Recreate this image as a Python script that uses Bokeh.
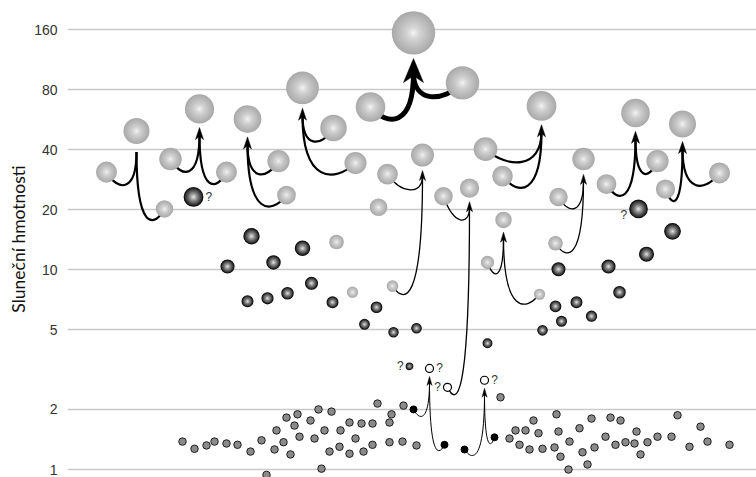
import math
from bokeh.plotting import figure
from bokeh.models import Range1d, FixedTicker, PrintfTickFormatter
from bokeh.core.properties import value
from bokeh.embed import file_html
from bokeh.resources import INLINE

# ---------------- data (masses in solar masses, x = event position) ----------------
Y_TICKS = [1, 2, 5, 10, 20, 40, 80, 160]
Y_LABEL = "Sluneční hmotnosti"

# gravitational-wave mergers: two components -> final object
merger_x = [136, 199, 247, 302, 413, 541, 635, 682, 422, 469, 503, 583, 429, 484]
final_m = [49.6, 64.0, 57.0, 81.6, 154, 66.3, 61.1, 53.8, 37.6, 25.7, 17.8, 35.9, 3.21, 2.80]
comp1_x = [106, 170, 278, 333, 370, 485, 606, 665, 387, 443, 487, 558, 413, 464]
comp1_m = [30.9, 35.9, 35.1, 51.4, 65.5, 40.3, 26.9, 25.4, 30.2, 23.4, 10.9, 23.2, 2.00, 1.26]
comp2_x = [164, 226, 286, 355, 462, 502, 657, 719, 392, 447, 539, 555, 444, 494]
comp2_m = [20.2, 30.9, 23.7, 34.3, 86.5, 29.5, 35.1, 30.6, 8.3, 2.58, 7.55, 13.6, 1.33, 1.45]
final_kind = ["bh"] * 12 + ["open"] * 2
comp1_kind = ["bh"] * 12 + ["ns"] * 2
comp2_kind = ["bh"] * 9 + ["open"] + ["bh"] * 2 + ["ns"] * 2

# single gravitational-wave black holes without merger arrows
lone_x = [378, 336, 352]
lone_m = [20.6, 13.8, 7.73]

# black holes seen in X-rays
xrb_x = [193, 251, 227, 273, 302, 311, 247, 267, 287, 332, 376, 364, 393, 416, 487,
         558, 608, 646, 672, 638, 619, 555, 576, 561, 591, 542]
xrb_m = [23.2, 14.75, 10.4, 10.9, 12.85, 8.57, 6.96, 7.21, 7.64, 6.88, 6.5, 5.34, 4.87, 5.1, 4.29,
         10.08, 10.4, 11.99, 15.6, 20.2, 7.73, 6.57, 6.88, 5.53, 5.86, 4.98]

# uncertain small object
unc_x = [409]
unc_m = [3.29]

# neutron stars seen electromagnetically
ns_x = [182, 194, 206, 214, 226, 237, 250, 261, 266, 274, 276, 283, 286, 290, 294, 297, 299,
        310, 314, 318, 321, 324, 329, 331, 339, 340, 349, 349, 355, 361, 363, 372, 372, 377,
        389, 391, 389, 402, 403, 416, 500, 509, 515, 519, 525, 529, 533, 538, 542, 554, 556,
        558, 560, 568, 569, 579, 582, 587, 591, 594, 605, 610, 615, 620, 625, 634, 636, 640,
        647, 657, 671, 677, 689, 700, 707, 729]
ns_m = [1.38, 1.27, 1.32, 1.38, 1.35, 1.33, 1.23, 1.40, 0.94, 1.26, 1.57, 1.37, 1.82, 1.19,
        1.66, 1.89, 1.46, 1.76, 1.43, 2.00, 1.01, 1.57, 1.23, 1.95, 1.30, 1.57, 1.72, 1.20,
        1.43, 1.70, 1.23, 1.70, 1.33, 2.14, 1.72, 1.89, 1.37, 1.38, 2.09, 1.32, 2.30, 1.43,
        1.57, 1.33, 1.57, 1.26, 1.76, 1.52, 1.27, 1.29, 1.89, 1.55, 1.16, 1.00, 1.38, 1.61,
        1.22, 1.06, 1.80, 1.29, 1.46, 1.82, 1.33, 1.76, 1.37, 1.35, 1.55, 1.19, 1.37, 1.46,
        1.46, 1.87, 1.30, 1.64, 1.38, 1.33]

# question marks next to uncertain objects
q_x = [193, 638, 409, 429, 447, 484]
q_m = [23.2, 20.2, 3.29, 3.21, 2.58, 2.80]
q_side = [1, -1, -1, 1, -1, 1]

# ---------------- styles ----------------
arrow_style = ["bbh"] * 4 + ["big"] + ["bbh"] * 3 + ["mid"] * 4 + ["bns"] * 2
has_head = [False] + [True] * 13
STYLE = {  # line width, head width, head length, dip px
    "bbh": (2.2, 8, 12, 20),
    "big": (5.0, 20, 24, 20),
    "mid": (1.3, 6, 10, 18),
    "bns": (1.0, 5, 9, 12),
}
q_dy = [0, 6, 0, 0, 0, 0]

W, H = 756, 477
LEFT = 67
Y_LO, Y_HI = 0.912, 223.7
S = H / math.log2(Y_HI / Y_LO)  # px per octave


def shift(m, px):
    """move mass value down on screen by px pixels"""
    return m * 2 ** (-px / S)


def diam(m, kind):
    if kind == "bh":
        return 4.5 * m ** 0.45
    if kind == "open":
        return 8
    return 7


p = figure(width=W, height=H, y_axis_type="log",
           x_range=Range1d(LEFT, W), y_range=Range1d(Y_LO, Y_HI),
           output_backend="svg", toolbar_location=None,
           min_border_left=LEFT, min_border_right=0, min_border_top=0, min_border_bottom=0)
p.outline_line_color = None
p.background_fill_color = "white"
p.xaxis.visible = False
p.xgrid.visible = False
p.ygrid.ticker = FixedTicker(ticks=Y_TICKS)
p.ygrid.grid_line_color = "#c9c9c9"
p.ygrid.grid_line_width = 1.5
yax = p.yaxis[0]
yax.ticker = FixedTicker(ticks=Y_TICKS)
yax.formatter = PrintfTickFormatter(format="%d")
yax.axis_line_color = None
yax.major_tick_line_color = None
yax.minor_tick_line_color = None
yax.major_tick_out = 0
yax.major_label_text_font = "Liberation Sans"
yax.major_label_text_font_size = "14px"
yax.major_label_text_color = "#333333"
yax.major_label_standoff = 10
yax.axis_label = Y_LABEL
yax.axis_label_text_font = "Lato"
yax.axis_label_text_font_size = "17.5px"
yax.axis_label_text_font_style = "normal"
yax.axis_label_text_color = "#111111"
yax.axis_label_standoff = 2

# ---------------- arrows ----------------
for i in range(len(merger_x)):
    lw, hw, hl, dip = STYLE[arrow_style[i]]
    xm = merger_x[i]
    fd = diam(final_m[i], final_kind[i])
    gap = 4 if has_head[i] else 8
    tip = shift(final_m[i], fd / 2 + gap)
    end = shift(tip, 0.6 * hl) if has_head[i] else tip
    bx0, by0, bx1, by1, bcx0, bcy0, bcx1, bcy1 = [], [], [], [], [], [], [], []
    for cx, cm in ((comp1_x[i], comp1_m[i]), (comp2_x[i], comp2_m[i])):
        low = shift(min(cm, end), dip)
        bx0.append(cx); by0.append(cm)
        bx1.append(xm); by1.append(end)
        bcx0.append(cx + 0.4 * (xm - cx)); bcy0.append(low)
        bcx1.append(xm); bcy1.append(low)
    p.bezier(x0=bx0, y0=by0, x1=bx1, y1=by1, cx0=bcx0, cy0=bcy0, cx1=bcx1, cy1=bcy1,
             line_color="black", line_width=lw)
    if has_head[i]:
        base = shift(tip, hl)
        notch = shift(tip, 0.72 * hl)
        p.patch(x=[xm, xm + hw / 2, xm, xm - hw / 2],
                y=[tip, base, notch, base],
                fill_color="black", line_color="black", line_width=0.5)

# ---------------- points ----------------
p.scatter(x=ns_x, y=ns_m, size=7.5, fill_color="#8a8a8a", line_color="#1e1e1e", line_width=1)

# collect objects by kind
objs = {"bh": ([], []), "open": ([], []), "ns": ([], [])}
for xs, ms, ks in ((merger_x, final_m, final_kind), (comp1_x, comp1_m, comp1_kind),
                   (comp2_x, comp2_m, comp2_kind)):
    for x, m, k in zip(xs, ms, ks):
        objs[k][0].append(x)
        objs[k][1].append(m)
objs["bh"][0].extend(lone_x)
objs["bh"][1].extend(lone_m)

p.scatter(x=objs["ns"][0], y=objs["ns"][1], size=7, fill_color="black", line_color="black")
p.scatter(x=objs["open"][0], y=objs["open"][1], size=8, fill_color="white",
          line_color="black", line_width=1.2)

N = 14


def gray(v):
    v = int(round(max(0, min(255, v))))
    return "#%02x%02x%02x" % (v, v, v)


def spheres(xs, ms, sizes, edge, center, expo, outline=None):
    for k in range(N):
        f = 1 - k / N
        fm = f - 0.5 / N
        col = gray(center - (center - edge) * max(fm, 0) ** expo)
        if k == 0:
            col = gray(edge)
        p.scatter(x=xs, y=ms, size=[s * f for s in sizes], fill_color=col,
                  line_color=(outline if (k == 0 and outline) else None),
                  line_width=1.3)


# uncertain small dark object
spheres(unc_x, unc_m, [6.5], 40, 200, 0.8, outline="#111111")
# X-ray black holes (dark spheres)
spheres(xrb_x, xrb_m, [diam(m, "bh") for m in xrb_m], 30, 250, 0.75, outline="#111111")
# gravitational-wave black holes (light spheres), largest first
order = sorted(range(len(objs["bh"][0])), key=lambda j: -objs["bh"][1][j])
bx = [objs["bh"][0][j] for j in order]
bm = [objs["bh"][1][j] for j in order]
spheres(bx, bm, [diam(m, "bh") for m in bm], 170, 252, 0.6)

# question marks
q_off = []
for x, m, sd in zip(q_x, q_m, q_side):
    if m > 10:
        d = diam(m, "bh")
    elif x in unc_x:
        d = 6.5
    else:
        d = 8
    q_off.append(sd * (d / 2 + 6))
p.text(x=q_x, y=q_m, text=["?"] * len(q_x), x_offset=q_off, y_offset=q_dy,
       text_font=value("Liberation Sans"), text_font_size="12px", text_color="#333333",
       text_align="center", text_baseline="middle")

open("out.html", "w").write(file_html(p, INLINE))
